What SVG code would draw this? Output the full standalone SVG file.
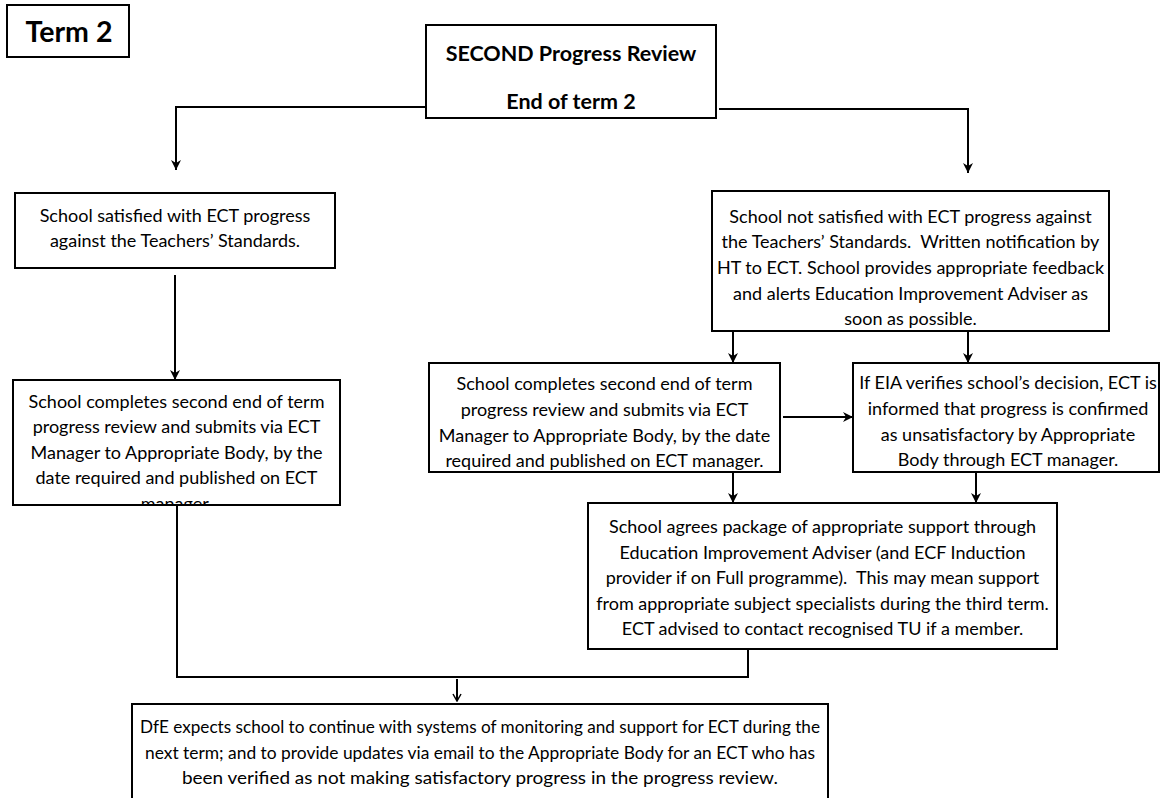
<svg xmlns="http://www.w3.org/2000/svg" width="1161" height="798" viewBox="0 0 1161 798">
<style>
.box{fill:#fff;stroke:#000;stroke-width:2}
.t{font-family:Lato,"Liberation Sans",sans-serif;font-size:18px;fill:#000;text-anchor:middle;white-space:pre}
.b{font-family:Lato,"Liberation Sans",sans-serif;font-weight:bold;fill:#000;text-anchor:middle}
.c{fill:none;stroke:#000;stroke-width:2}
</style>
<defs>
<marker id="ah" viewBox="-11 -5.5 12 11" markerWidth="12" markerHeight="11" refX="0" refY="0" orient="auto" markerUnits="userSpaceOnUse">
<path d="M0,0 L-10,-5 L-7,0 L-10,5 Z" fill="#000"/>
</marker>
<marker id="ao" viewBox="-9 -5 10 10" markerWidth="10" markerHeight="10" refX="0" refY="0" orient="auto" markerUnits="userSpaceOnUse">
<path d="M-7,-4 L0,0 L-7,4" fill="none" stroke="#000" stroke-width="1.5"/>
</marker>
<clipPath id="clipL2"><rect x="13" y="380" width="327" height="125"/></clipPath>
</defs>
<rect width="1161" height="798" fill="#fff"/>

<g id="connectors">
<path class="c" d="M426,107 H176 V170" marker-end="url(#ah)"/>
<path class="c" d="M719,109 H968 V173" marker-end="url(#ah)"/>
<path class="c" d="M175,275 V380" marker-end="url(#ah)"/>
<path class="c" d="M733,331 V363" marker-end="url(#ah)"/>
<path class="c" d="M968,331 V363" marker-end="url(#ah)"/>
<path class="c" d="M783,417 H853" marker-end="url(#ah)"/>
<path class="c" d="M733,472 V503" marker-end="url(#ah)"/>
<path class="c" d="M976,472 V503" marker-end="url(#ah)"/>
<path class="c" d="M177,505 V677 H748 V649" stroke-width="1.6"/>
<path class="c" d="M457,679 V701" stroke-width="1.5" marker-end="url(#ao)"/>
</g>

<g id="term2">
<rect class="box" x="7" y="5" width="122" height="52"/>
<text class="b" x="69" y="42" font-size="28.5">Term 2</text>
</g>

<g id="review">
<rect class="box" x="426" y="25" width="290" height="93"/>
<text class="b" x="571" y="61" font-size="21.5">SECOND Progress Review</text>
<text class="b" x="571" y="109" font-size="21.5">End of term 2</text>
</g>

<g id="satisfied">
<rect class="box" x="15" y="193" width="320" height="75"/>
<text class="t" x="175" y="222">School satisfied with ECT progress</text>
<text class="t" x="175" y="247">against the Teachers’ Standards.</text>
</g>

<g id="completes-left">
<rect class="box" x="13" y="380" width="327" height="125"/>
<g clip-path="url(#clipL2)">
<text class="t" x="176.5" y="407.5">School completes second end of term</text>
<text class="t" x="176.5" y="433">progress review and submits via ECT</text>
<text class="t" x="176.5" y="458.5">Manager to Appropriate Body, by the</text>
<text class="t" x="176.5" y="484">date required and published on ECT</text>
<text class="t" x="176.5" y="509.5">manager.</text>
</g>
</g>

<g id="not-satisfied">
<rect class="box" x="712" y="191" width="397" height="140"/>
<text class="t" x="910.5" y="222.7">School not satisfied with ECT progress against</text>
<text class="t" x="910.5" y="248.3">the Teachers’ Standards.  Written notification by</text>
<text class="t" x="910.5" y="274">HT to ECT. School provides appropriate feedback</text>
<text class="t" x="910.5" y="299.6">and alerts Education Improvement Adviser as</text>
<text class="t" x="910.5" y="325.3">soon as possible.</text>
</g>

<g id="completes-right">
<rect class="box" x="429" y="363" width="351" height="109"/>
<text class="t" x="604.5" y="390">School completes second end of term</text>
<text class="t" x="604.5" y="416">progress review and submits via ECT</text>
<text class="t" x="604.5" y="441.5">Manager to Appropriate Body, by the date</text>
<text class="t" x="604.5" y="467">required and published on ECT manager.</text>
</g>

<g id="eia-verifies">
<rect class="box" x="853" y="363" width="306" height="109"/>
<text class="t" x="1008" y="389">If EIA verifies school’s decision, ECT is</text>
<text class="t" x="1008" y="415">informed that progress is confirmed</text>
<text class="t" x="1008" y="440.5">as unsatisfactory by Appropriate</text>
<text class="t" x="1008" y="466">Body through ECT manager.</text>
</g>

<g id="support">
<rect class="box" x="588" y="503" width="469" height="146"/>
<text class="t" x="822.5" y="533">School agrees package of appropriate support through</text>
<text class="t" x="822.5" y="558.5">Education Improvement Adviser (and ECF Induction</text>
<text class="t" x="822.5" y="584">provider if on Full programme).  This may mean support</text>
<text class="t" x="822.5" y="609.5">from appropriate subject specialists during the third term.</text>
<text class="t" x="822.5" y="635">ECT advised to contact recognised TU if a member.</text>
</g>

<g id="dfe">
<rect class="box" x="132" y="704" width="696" height="100"/>
<text class="t" x="480" y="733" textLength="680" lengthAdjust="spacingAndGlyphs">DfE expects school to continue with systems of monitoring and support for ECT during the</text>
<text class="t" x="480" y="759" textLength="670" lengthAdjust="spacingAndGlyphs">next term; and to provide updates via email to the Appropriate Body for an ECT who has</text>
<text class="t" x="480" y="784" textLength="596" lengthAdjust="spacingAndGlyphs">been verified as not making satisfactory progress in the progress review.</text>
</g>
</svg>
